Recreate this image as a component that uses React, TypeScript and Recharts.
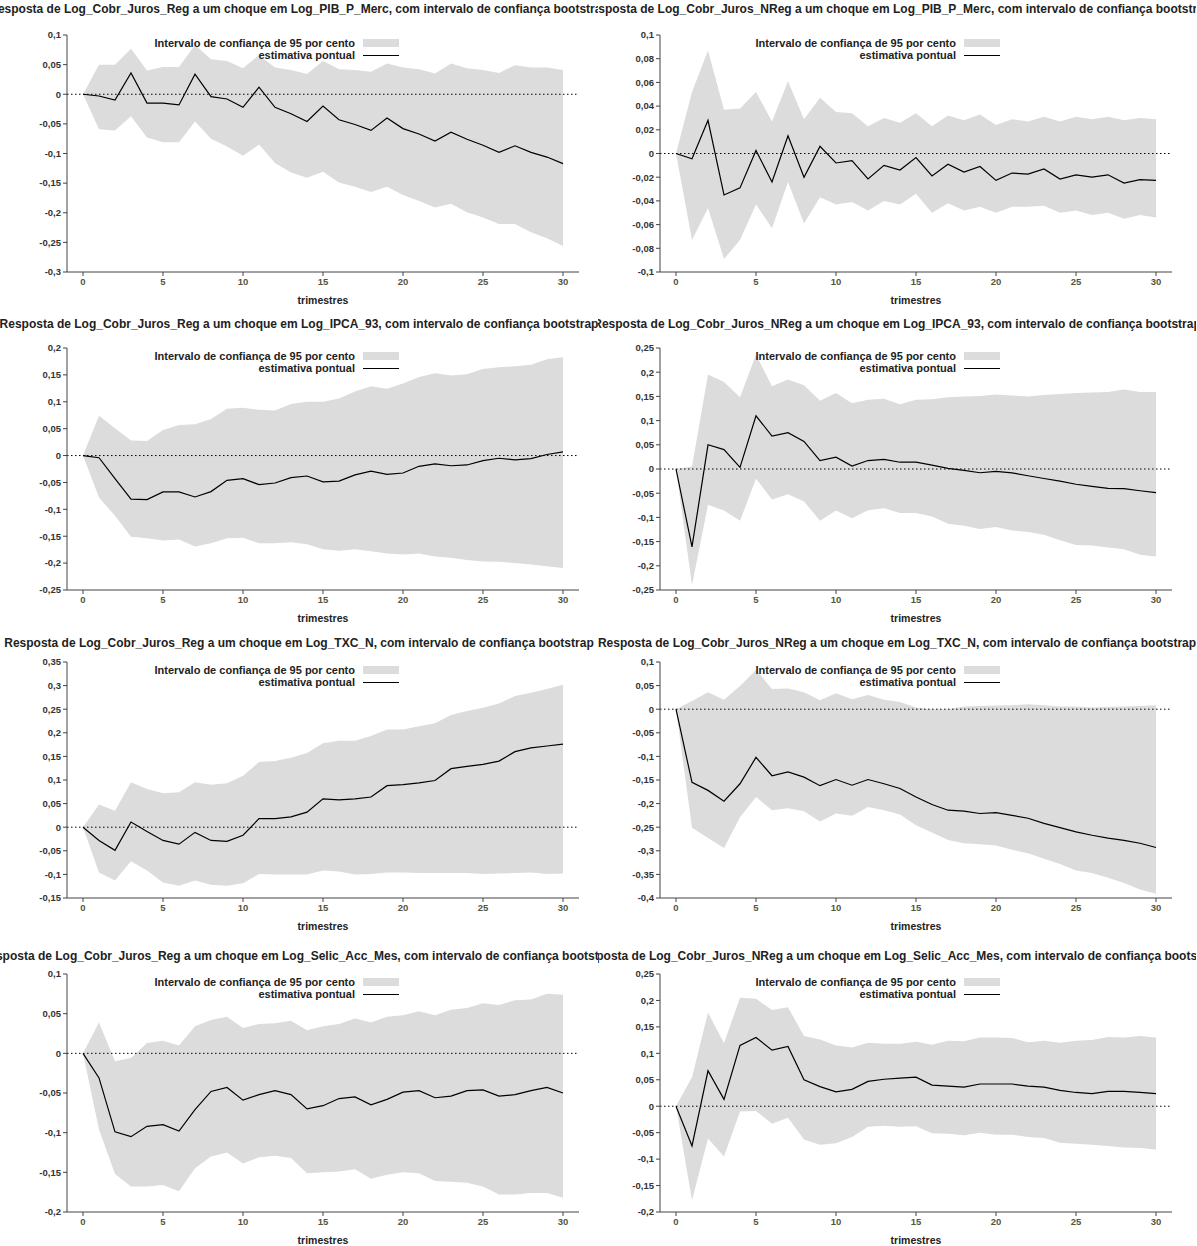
import { ComposedChart, Area, Line, XAxis, YAxis, ReferenceLine } from "recharts";

// horizon in quarters
const periods = Array.from({ length: 31 }, (_, i) => i);
const xTicks = [0, 5, 10, 15, 20, 25, 30];

// Reg <- PIB
const pibRegPt = [0, -0.003, -0.01, 0.036, -0.015, -0.015, -0.018, 0.034, -0.004, -0.008, -0.022, 0.012, -0.022, -0.033, -0.046, -0.02, -0.043, -0.051, -0.061, -0.04, -0.058, -0.067, -0.079, -0.064, -0.076, -0.086, -0.098, -0.087, -0.098, -0.106, -0.117];
const pibRegHi = [0, 0.05, 0.05, 0.077, 0.04, 0.046, 0.046, 0.083, 0.059, 0.056, 0.044, 0.066, 0.045, 0.041, 0.034, 0.056, 0.042, 0.041, 0.038, 0.052, 0.045, 0.042, 0.035, 0.052, 0.044, 0.041, 0.036, 0.049, 0.045, 0.045, 0.041];
const pibRegLo = [0, -0.059, -0.061, -0.037, -0.073, -0.081, -0.081, -0.046, -0.075, -0.088, -0.104, -0.085, -0.116, -0.132, -0.141, -0.131, -0.149, -0.156, -0.165, -0.156, -0.17, -0.18, -0.191, -0.185, -0.199, -0.208, -0.219, -0.219, -0.233, -0.243, -0.256];

// NReg <- PIB
const pibNRegPt = [0, -0.0045, 0.028, -0.035, -0.029, 0.0025, -0.024, 0.015, -0.02, 0.006, -0.008, -0.006, -0.0215, -0.01, -0.014, -0.0035, -0.019, -0.009, -0.0157, -0.011, -0.0227, -0.0165, -0.0174, -0.013, -0.0216, -0.018, -0.02, -0.018, -0.025, -0.022, -0.0227];
const pibNRegHi = [0, 0.052, 0.087, 0.037, 0.038, 0.052, 0.027, 0.061, 0.029, 0.047, 0.035, 0.034, 0.023, 0.03, 0.026, 0.034, 0.023, 0.032, 0.028, 0.033, 0.024, 0.029, 0.027, 0.031, 0.027, 0.031, 0.029, 0.031, 0.028, 0.03, 0.029];
const pibNRegLo = [0, -0.073, -0.046, -0.089, -0.073, -0.043, -0.063, -0.024, -0.059, -0.037, -0.043, -0.041, -0.048, -0.04, -0.043, -0.034, -0.05, -0.042, -0.048, -0.045, -0.05, -0.045, -0.045, -0.044, -0.05, -0.048, -0.052, -0.05, -0.055, -0.052, -0.054];

// Reg <- IPCA
const ipcaRegPt = [0, -0.004, -0.043, -0.081, -0.082, -0.0675, -0.0675, -0.077, -0.067, -0.046, -0.043, -0.054, -0.051, -0.041, -0.038, -0.049, -0.0475, -0.036, -0.029, -0.035, -0.0325, -0.02, -0.0156, -0.019, -0.0175, -0.0094, -0.005, -0.008, -0.0056, 0.002, 0.007];
const ipcaRegHi = [0, 0.074, 0.051, 0.028, 0.027, 0.0475, 0.057, 0.058, 0.068, 0.087, 0.089, 0.085, 0.084, 0.096, 0.1, 0.1, 0.106, 0.119, 0.129, 0.124, 0.134, 0.146, 0.153, 0.149, 0.151, 0.161, 0.164, 0.166, 0.169, 0.179, 0.183];
const ipcaRegLo = [0, -0.078, -0.112, -0.151, -0.154, -0.158, -0.156, -0.169, -0.163, -0.154, -0.153, -0.163, -0.163, -0.161, -0.165, -0.174, -0.177, -0.174, -0.178, -0.182, -0.184, -0.182, -0.1875, -0.19, -0.194, -0.197, -0.1975, -0.2, -0.2025, -0.206, -0.209];

// NReg <- IPCA
const ipcaNRegPt = [0, -0.161, 0.05, 0.04, 0.0035, 0.11, 0.068, 0.075, 0.057, 0.0175, 0.0245, 0.006, 0.0175, 0.02, 0.014, 0.014, 0.008, 0.0014, -0.003, -0.0077, -0.005, -0.008, -0.014, -0.0196, -0.025, -0.0315, -0.036, -0.04, -0.0405, -0.045, -0.049];
const ipcaNRegHi = [0, 0.005, 0.195, 0.18, 0.148, 0.236, 0.171, 0.185, 0.173, 0.141, 0.157, 0.136, 0.143, 0.145, 0.134, 0.143, 0.144, 0.148, 0.15, 0.151, 0.154, 0.152, 0.15, 0.153, 0.155, 0.157, 0.158, 0.159, 0.164, 0.159, 0.159];
const ipcaNRegLo = [0, -0.24, -0.074, -0.086, -0.107, -0.02, -0.063, -0.052, -0.067, -0.107, -0.086, -0.102, -0.085, -0.081, -0.091, -0.091, -0.098, -0.113, -0.117, -0.124, -0.12, -0.127, -0.13, -0.136, -0.147, -0.157, -0.158, -0.162, -0.166, -0.177, -0.181];

// Reg <- TXC
const txcRegPt = [0, -0.028, -0.049, 0.011, -0.009, -0.028, -0.036, -0.011, -0.028, -0.03, -0.017, 0.018, 0.018, 0.022, 0.032, 0.06, 0.058, 0.06, 0.064, 0.088, 0.09, 0.094, 0.099, 0.124, 0.129, 0.133, 0.14, 0.16, 0.168, 0.172, 0.176];
const txcRegHi = [0, 0.048, 0.035, 0.095, 0.081, 0.072, 0.074, 0.095, 0.09, 0.093, 0.109, 0.138, 0.14, 0.147, 0.157, 0.178, 0.183, 0.183, 0.193, 0.207, 0.207, 0.214, 0.22, 0.2375, 0.246, 0.253, 0.262, 0.278, 0.285, 0.293, 0.302];
const txcRegLo = [0, -0.096, -0.113, -0.072, -0.092, -0.117, -0.124, -0.113, -0.122, -0.124, -0.119, -0.099, -0.1, -0.1, -0.1, -0.092, -0.094, -0.1, -0.099, -0.096, -0.096, -0.097, -0.097, -0.097, -0.097, -0.099, -0.098, -0.097, -0.096, -0.099, -0.098];

// NReg <- TXC
const txcNRegPt = [0, -0.155, -0.172, -0.195, -0.158, -0.102, -0.141, -0.133, -0.144, -0.162, -0.149, -0.161, -0.149, -0.158, -0.168, -0.186, -0.202, -0.214, -0.216, -0.221, -0.219, -0.225, -0.231, -0.242, -0.251, -0.26, -0.267, -0.273, -0.278, -0.284, -0.293];
const txcNRegHi = [0, 0.0175, 0.036, 0.02, 0.049, 0.083, 0.043, 0.044, 0.036, 0.019, 0.034, 0.021, 0.03, 0.02, 0.015, 0.0035, 0, 0, 0.0056, 0.007, 0.0077, 0.0084, 0.0105, 0.0084, 0.0056, 0.0056, 0.0035, 0.005, 0.0056, 0.007, 0.0084];
const txcNRegLo = [0, -0.251, -0.273, -0.294, -0.229, -0.186, -0.214, -0.21, -0.216, -0.238, -0.221, -0.226, -0.207, -0.214, -0.223, -0.246, -0.261, -0.277, -0.284, -0.286, -0.289, -0.298, -0.305, -0.317, -0.328, -0.342, -0.347, -0.357, -0.368, -0.382, -0.391];

// Reg <- Selic
const selicRegPt = [0, -0.031, -0.099, -0.105, -0.092, -0.09, -0.098, -0.071, -0.048, -0.043, -0.059, -0.052, -0.047, -0.052, -0.07, -0.066, -0.057, -0.055, -0.065, -0.058, -0.049, -0.047, -0.056, -0.054, -0.047, -0.046, -0.054, -0.052, -0.047, -0.043, -0.05];
const selicRegHi = [0, 0.039, -0.01, -0.006, 0.013, 0.016, 0.01, 0.034, 0.042, 0.046, 0.032, 0.037, 0.038, 0.041, 0.029, 0.034, 0.037, 0.044, 0.039, 0.046, 0.048, 0.053, 0.048, 0.055, 0.057, 0.063, 0.061, 0.067, 0.068, 0.075, 0.074];
const selicRegLo = [0, -0.096, -0.152, -0.168, -0.168, -0.166, -0.174, -0.145, -0.13, -0.125, -0.139, -0.131, -0.129, -0.132, -0.151, -0.15, -0.149, -0.146, -0.158, -0.153, -0.15, -0.151, -0.161, -0.162, -0.163, -0.168, -0.178, -0.178, -0.176, -0.176, -0.182];

// NReg <- Selic
const selicNRegPt = [0, -0.075, 0.067, 0.013, 0.115, 0.13, 0.106, 0.113, 0.05, 0.037, 0.027, 0.032, 0.047, 0.051, 0.053, 0.055, 0.04, 0.038, 0.036, 0.042, 0.042, 0.042, 0.038, 0.036, 0.03, 0.026, 0.024, 0.028, 0.028, 0.026, 0.024];
const selicNRegHi = [0, 0.055, 0.177, 0.119, 0.205, 0.203, 0.182, 0.187, 0.133, 0.126, 0.115, 0.111, 0.12, 0.118, 0.118, 0.122, 0.116, 0.124, 0.123, 0.13, 0.13, 0.129, 0.121, 0.124, 0.12, 0.124, 0.125, 0.131, 0.13, 0.133, 0.13];
const selicNRegLo = [0, -0.178, -0.061, -0.095, -0.01, -0.009, -0.033, -0.022, -0.063, -0.073, -0.07, -0.058, -0.039, -0.037, -0.039, -0.038, -0.051, -0.052, -0.055, -0.05, -0.054, -0.054, -0.058, -0.06, -0.069, -0.071, -0.073, -0.075, -0.078, -0.079, -0.082];

const titles = [
  "Resposta de Log_Cobr_Juros_Reg a um choque em Log_PIB_P_Merc, com intervalo de confiança bootstrap",
  "Resposta de Log_Cobr_Juros_NReg a um choque em Log_PIB_P_Merc, com intervalo de confiança bootstrap",
  "Resposta de Log_Cobr_Juros_Reg a um choque em Log_IPCA_93, com intervalo de confiança bootstrap",
  "Resposta de Log_Cobr_Juros_NReg a um choque em Log_IPCA_93, com intervalo de confiança bootstrap",
  "Resposta de Log_Cobr_Juros_Reg a um choque em Log_TXC_N, com intervalo de confiança bootstrap",
  "Resposta de Log_Cobr_Juros_NReg a um choque em Log_TXC_N, com intervalo de confiança bootstrap",
  "Resposta de Log_Cobr_Juros_Reg a um choque em Log_Selic_Acc_Mes, com intervalo de confiança bootstrap",
  "Resposta de Log_Cobr_Juros_NReg a um choque em Log_Selic_Acc_Mes, com intervalo de confiança bootstrap",
];

const yTickSets = [
  [-0.3, -0.25, -0.2, -0.15, -0.1, -0.05, 0, 0.05, 0.1],
  [-0.1, -0.08, -0.06, -0.04, -0.02, 0, 0.02, 0.04, 0.06, 0.08, 0.1],
  [-0.25, -0.2, -0.15, -0.1, -0.05, 0, 0.05, 0.1, 0.15, 0.2],
  [-0.25, -0.2, -0.15, -0.1, -0.05, 0, 0.05, 0.1, 0.15, 0.2, 0.25],
  [-0.15, -0.1, -0.05, 0, 0.05, 0.1, 0.15, 0.2, 0.25, 0.3, 0.35],
  [-0.4, -0.35, -0.3, -0.25, -0.2, -0.15, -0.1, -0.05, 0, 0.05, 0.1],
  [-0.2, -0.15, -0.1, -0.05, 0, 0.05, 0.1],
  [-0.2, -0.15, -0.1, -0.05, 0, 0.05, 0.1, 0.15, 0.2, 0.25],
];

const series = [
  [pibRegPt, pibRegLo, pibRegHi],
  [pibNRegPt, pibNRegLo, pibNRegHi],
  [ipcaRegPt, ipcaRegLo, ipcaRegHi],
  [ipcaNRegPt, ipcaNRegLo, ipcaNRegHi],
  [txcRegPt, txcRegLo, txcRegHi],
  [txcNRegPt, txcNRegLo, txcNRegHi],
  [selicRegPt, selicRegLo, selicRegHi],
  [selicNRegPt, selicNRegLo, selicNRegHi],
];

const rowTitleY = [2, 317, 636, 949];
const rowPlotTop = [35, 348, 662, 974];
const rowPlotBottom = [272, 590, 898, 1212];

const font = "'Liberation Sans', Arial, sans-serif";
const fmt = (v: number) => String(Math.round(v * 1000) / 1000).replace(".", ",");

function Panel({ idx }: { idx: number }) {
  const row = Math.floor(idx / 2);
  const col = idx % 2;
  const left = col === 0 ? 7 : 600;
  const plotTop = rowPlotTop[row];
  const plotH = rowPlotBottom[row] - plotTop;
  const [pt, lo, hi] = series[idx];
  const ticks = yTickSets[idx];
  const data = periods.map((t, i) => ({ t, pt: pt[i], band: [lo[i], hi[i]] }));
  const chartTop = plotTop - 5;

  return (
    <>
      <div
        style={{
          position: "absolute",
          left: col * 598,
          top: rowTitleY[row],
          width: 598,
          overflow: "hidden",
          display: "flex",
          justifyContent: "center",
          whiteSpace: "nowrap",
          fontFamily: font,
          fontSize: 12,
          fontWeight: "bold",
          color: "#222",
        }}
      >
        <span style={{ flexShrink: 0 }}>{titles[idx]}</span>
      </div>
      <div style={{ position: "absolute", left, top: chartTop }}>
        <ComposedChart
          width={590}
          height={plotH + 39}
          data={data}
          margin={{ top: 5, right: 18, bottom: 0, left: 0 }}
        >
          <XAxis
            dataKey="t"
            type="number"
            domain={[-1, 31]}
            ticks={xTicks}
            tickSize={4}
            stroke="#444"
            tick={{ fontSize: 9.5, fill: "#55553a", fontFamily: font, fontWeight: "bold" }}
            height={34}
            label={{ value: "trimestres", position: "insideBottom", offset: 2, fontSize: 10.5, fontWeight: "bold", fill: "#222", fontFamily: font }}
          />
          <YAxis
            type="number"
            domain={[ticks[0], ticks[ticks.length - 1]]}
            ticks={ticks}
            tickFormatter={fmt}
            tickSize={4}
            width={60}
            stroke="#444"
            tick={{ fontSize: 9.5, fill: "#333", fontFamily: font, fontWeight: "bold" }}
          />
          <Area dataKey="band" type="linear" stroke="none" fill="#dcdcdc" fillOpacity={1} isAnimationActive={false} />
          <ReferenceLine y={0} stroke="#000" strokeDasharray="1.5 2.5" />
          <Line dataKey="pt" type="linear" stroke="#000" strokeWidth={1.2} dot={false} isAnimationActive={false} />
        </ComposedChart>
      </div>
      <div
        style={{
          position: "absolute",
          left: left + 40,
          top: plotTop + 2,
          width: col === 0 ? 308 : 316,
          fontFamily: font,
          fontSize: 11,
          fontWeight: "bold",
          color: "#222",
          lineHeight: "12px",
        }}
      >
        <div style={{ display: "flex", justifyContent: "flex-end", alignItems: "center" }}>
          <span>Intervalo de confiança de 95 por cento</span>
          <span style={{ display: "inline-block", width: 36, height: 8, background: "#dcdcdc", marginLeft: 8, marginRight: -44 }} />
        </div>
        <div style={{ display: "flex", justifyContent: "flex-end", alignItems: "center" }}>
          <span>estimativa pontual</span>
          <span style={{ display: "inline-block", width: 36, height: 1, background: "#000", marginLeft: 8, marginRight: -44 }} />
        </div>
      </div>
    </>
  );
}

export default function App() {
  return (
    <div style={{ position: "absolute", left: 0, top: 0, width: 1197, height: 1246, background: "#fff", overflow: "hidden" }}>
      {series.map((_, i) => (
        <Panel key={i} idx={i} />
      ))}
    </div>
  );
}
